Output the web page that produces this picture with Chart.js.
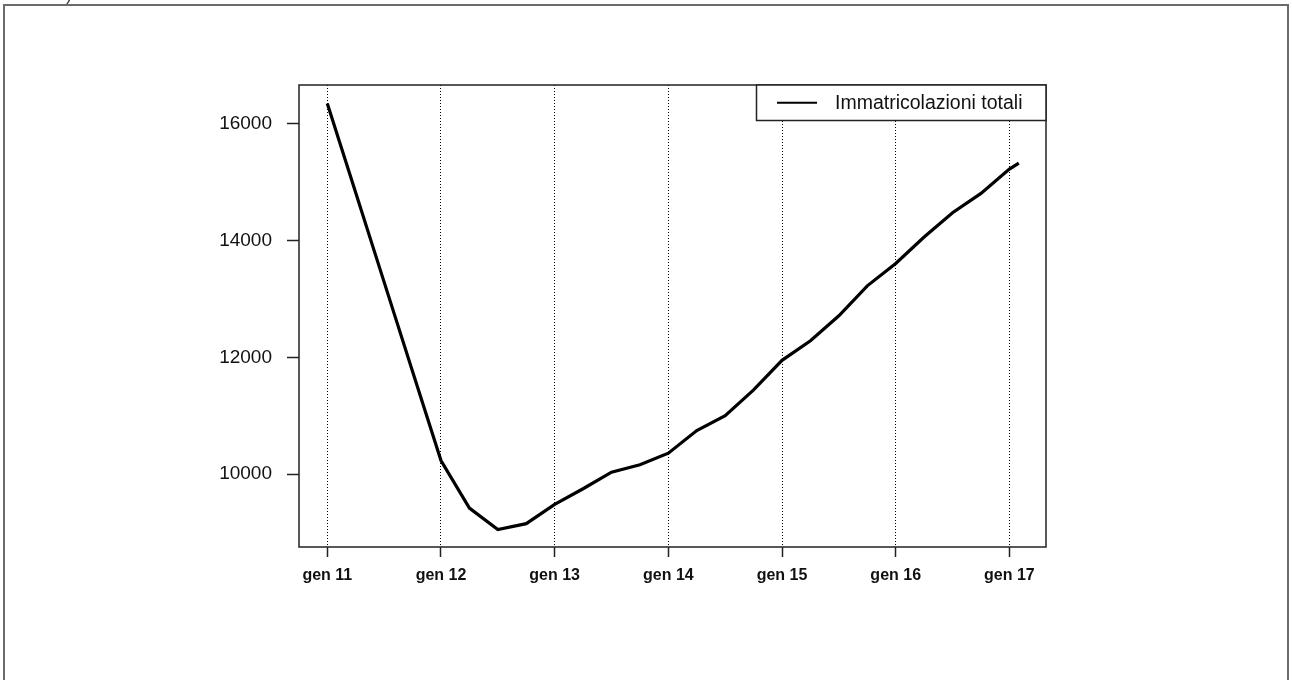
<!DOCTYPE html>
<html>
<head>
<meta charset="utf-8">
<script src="https://cdn.jsdelivr.net/npm/chart.js@4"></script>
<style>
  body { margin: 0; background: #fff; overflow: hidden; }
  canvas { display: block; }
</style>
</head>
<body>
<canvas id="myChart" width="1292" height="680"></canvas>
<script>
  // quarterly points, last one is feb 2017
  var years = [2011, 2011.25, 2011.5, 2011.75, 2012, 2012.25, 2012.5, 2012.75,
    2013, 2013.25, 2013.5, 2013.75, 2014, 2014.25, 2014.5, 2014.75,
    2015, 2015.25, 2015.5, 2015.75, 2016, 2016.25, 2016.5, 2016.75, 2017, 2017.083];
  var immatricolazioni = [16350, 14820, 13290, 11760, 10234, 9419, 9050, 9152,
    9482, 9750, 10034, 10160, 10360, 10747, 11003, 11443,
    11950, 12285, 12713, 13226, 13610, 14063, 14479, 14810, 15226, 15330];
  var xTickValues = [2011, 2012, 2013, 2014, 2015, 2016, 2017];
  var xTickLabels = ["gen 11", "gen 12", "gen 13", "gen 14", "gen 15", "gen 16", "gen 17"];
  var yTickValues = [10000, 12000, 14000, 16000];
  var seriesName = "Immatricolazioni totali";

  var fontFamily = "'Liberation Sans', Arial, sans-serif";

  const frame = {
    id: "frame",
    beforeDraw(chart) {
      const ctx = chart.ctx;
      ctx.save();
      ctx.strokeStyle = "#6b6b6b";
      ctx.lineWidth = 2;
      ctx.strokeRect(4, 5, 1284, 700);
      ctx.fillStyle = "#444";
      ctx.font = "18px " + fontFamily;
      ctx.textBaseline = "alphabetic";
      ctx.fillText(")", 66, -0.5);
      ctx.restore();
    },
    afterDraw(chart) {
      const a = chart.chartArea, ctx = chart.ctx;
      ctx.save();
      ctx.strokeStyle = "#222";
      ctx.lineWidth = 1.5;
      ctx.strokeRect(a.left, a.top, a.right - a.left, a.bottom - a.top);

      // legend box top right
      const ds = chart.data.datasets[0];
      const boxLeft = 756.5, boxBottom = a.top + 35.5;
      ctx.fillStyle = "#fff";
      ctx.fillRect(boxLeft, a.top, a.right - boxLeft, boxBottom - a.top);
      ctx.strokeRect(boxLeft, a.top, a.right - boxLeft, boxBottom - a.top);
      const midY = (a.top + boxBottom) / 2;
      ctx.strokeStyle = "#000";
      ctx.lineWidth = 2;
      ctx.beginPath();
      ctx.moveTo(777, midY);
      ctx.lineTo(817, midY);
      ctx.stroke();
      ctx.fillStyle = "#111";
      ctx.font = "19.5px " + fontFamily;
      ctx.textBaseline = "middle";
      ctx.fillText(ds.label, 835, midY + 1);
      ctx.restore();
    }
  };

  new Chart("myChart", {
    type: "line",
    data: {
      datasets: [{
        label: seriesName,
        data: years.map((x, i) => ({ x: x, y: immatricolazioni[i] })),
        borderColor: "#000",
        borderWidth: 3.2,
        pointRadius: 0,
        tension: 0,
        fill: false
      }]
    },
    options: {
      responsive: false,
      animation: false,
      layout: { padding: { top: 85, right: 246, left: 0, bottom: 0 } },
      plugins: {
        legend: { display: false },
        tooltip: { enabled: false }
      },
      scales: {
        x: {
          type: "linear",
          min: 2010.751,
          max: 2017.322,
          afterBuildTicks: (scale) => { scale.ticks = xTickValues.map(v => ({ value: v })); },
          afterFit: (scale) => { scale.height = 133; },
          border: { display: false, dash: [1, 2] },
          grid: {
            color: "#000",
            lineWidth: 1,
            tickLength: 10,
            tickColor: "#222",
            tickWidth: 1.5,
            tickBorderDash: []
          },
          ticks: {
            padding: 9,
            maxRotation: 0,
            color: "#111",
            font: { family: fontFamily, size: 16, weight: "bold" },
            callback: (v) => xTickLabels[xTickValues.indexOf(v)]
          }
        },
        y: {
          min: 8752,
          max: 16667,
          afterBuildTicks: (scale) => { scale.ticks = yTickValues.map(v => ({ value: v })); },
          afterFit: (scale) => { scale.width = 299; },
          border: { display: false },
          grid: {
            drawOnChartArea: false,
            tickLength: 12,
            tickColor: "#222",
            tickWidth: 1.5
          },
          ticks: {
            padding: 15,
            color: "#111",
            font: { family: fontFamily, size: 19 },
            callback: (v) => String(v)
          }
        }
      }
    },
    plugins: [frame]
  });
</script>
</body>
</html>
